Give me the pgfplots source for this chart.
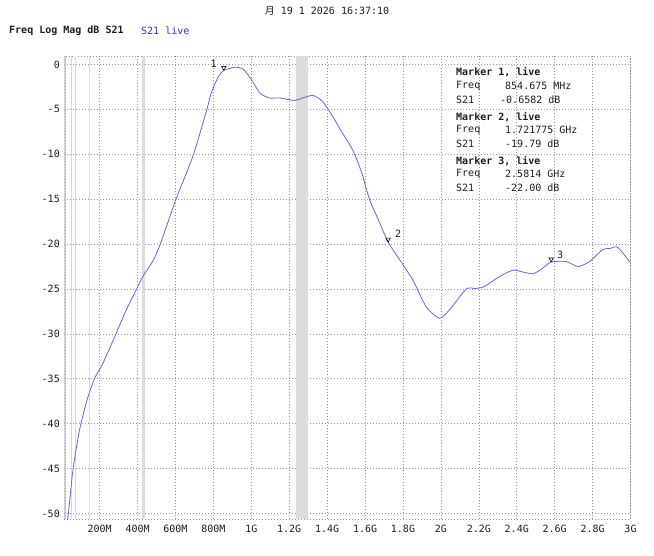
\documentclass[border=0pt]{standalone}
\usepackage{fontspec}
\setmainfont{DejaVu Sans Mono}
\newfontfamily\cjk{Noto Sans CJK SC}
\usepackage{pgfplots}
\pgfplotsset{compat=1.18}
\definecolor{trace}{RGB}{105,105,205}
\definecolor{gridc}{RGB}{150,150,150}
\definecolor{band}{RGB}{220,220,220}
\definecolor{lband}{RGB}{200,200,200}
\definecolor{txt}{RGB}{30,30,30}
\definecolor{live}{RGB}{50,50,190}
\begin{document}
\begin{tikzpicture}[x=1bp,y=1bp,font=\fontsize{10bp}{12bp}\selectfont]
\path[use as bounding box] (0,0) rectangle (654,556);
\node[anchor=center,text=txt] at (327,545) {{\cjk 月} 19 1 2026 16:37:10};
\node[anchor=west,inner sep=0,text=txt] at (9,525) {\bfseries Freq Log Mag dB S21};
\node[anchor=west,inner sep=0,text=live] at (141,525) {S21 live};
\begin{axis}[at={(64.3bp,36.7bp)}, anchor=south west, scale only axis,
  width=566.2bp, height=463.3bp,
  xmin=0.0137, xmax=3, ymin=-50.65, ymax=0.95,
  axis line style={gridc, dash pattern=on 1bp off 2bp, line width=0.6bp},
  grid=major, major grid style={gridc, dash pattern=on 1bp off 2bp, line width=0.6bp},
  major tick length=0,
  xtick={0.2,0.4,0.6,0.8,1,1.2,1.4,1.6,1.8,2,2.2,2.4,2.6,2.8,3},
  xticklabels={200M,400M,600M,800M,1G,1.2G,1.4G,1.6G,1.8G,2G,2.2G,2.4G,2.6G,2.8G,3G},
  ytick={-50,-45,-40,-35,-30,-25,-20,-15,-10,-5,0},
  yticklabels={-50,-45,-40,-35,-30,-25,-20,-15,-10,-5,0},
  tick label style={font=\fontsize{10bp}{12bp}\selectfont, text=txt},
  xticklabel style={yshift=-2bp},
  yticklabel style={xshift=-1bp},
  clip=true]
\addplot[draw=none, fill=band, forget plot] coordinates {(1.236,-50.65) (1.300,-50.65) (1.300,0.95) (1.236,0.95)} -- cycle;
\addplot[draw=none, fill=band, forget plot] coordinates {(0.423,-50.65) (0.437,-50.65) (0.437,0.95) (0.423,0.95)} -- cycle;
\addplot[draw=none, fill=lband, forget plot] coordinates {(0.0137,-50.65) (0.022,-50.65) (0.022,0.95) (0.0137,0.95)} -- cycle;
\addplot[gray!30, line width=0.8bp, forget plot] coordinates {(0.05,-50.65) (0.05,0.95)};
\addplot[gray!30, line width=0.8bp, forget plot] coordinates {(0.074,-50.65) (0.074,0.95)};
\addplot[gray!30, line width=0.8bp, forget plot] coordinates {(0.146,-50.65) (0.146,0.95)};
\addplot[trace, line width=0.8bp, smooth, tension=0.4] coordinates {
(0.0137,-50.65) (0.031,-50.65) (0.059,-45.2) (0.094,-40.7) (0.133,-37.4) (0.1735,-34.95)
(0.217,-33.3) (0.288,-29.9) (0.341,-27.3) (0.393,-25.1) (0.428,-23.6) (0.483,-21.8)
(0.518,-20.1) (0.603,-15.0) (0.650,-12.5) (0.694,-10.1) (0.729,-7.66) (0.765,-5.07)
(0.791,-3.03) (0.826,-1.36) (0.8547,-0.66) (0.914,-0.31) (0.958,-0.53) (1.002,-1.73)
(1.046,-3.2) (1.097,-3.73) (1.150,-3.73)
(1.228,-4.0) (1.270,-3.73) (1.325,-3.44) (1.376,-4.11) (1.429,-5.79) (1.481,-7.64)
(1.534,-9.5) (1.580,-11.9) (1.624,-15.07) (1.67,-17.3) (1.7218,-19.79) (1.800,-22.3)
(1.852,-24.0) (1.923,-27.0) (1.993,-28.26) (2.046,-27.3) (2.134,-25.0) (2.18,-24.95)
(2.222,-24.8) (2.26,-24.3) (2.31,-23.6) (2.38,-22.9) (2.43,-23.1) (2.485,-23.3)
(2.53,-22.8) (2.5814,-22.0) (2.661,-21.95) (2.723,-22.5) (2.784,-21.95) (2.854,-20.6)
(2.89,-20.5) (2.927,-20.3) (2.96,-21.0) (2.995,-21.95) (3.0,-22.0)
};
\addplot[only marks, mark=triangle, mark size=2.6bp,
  mark options={yshift=2.8bp, rotate=180, draw=black, fill=none, line width=0.6bp}]
  coordinates {(0.854675,-0.6582) (1.721775,-19.79) (2.5814,-22.00)};
\node[text=txt, xshift=-10bp, yshift=7bp] at (axis cs:0.854675,-0.6582) {1};
\node[text=txt, xshift=10bp, yshift=8bp] at (axis cs:1.721775,-19.79) {2};
\node[text=txt, xshift=9bp, yshift=7bp] at (axis cs:2.5814,-22.00) {3};
\end{axis}
\begin{scope}[every node/.style={anchor=west, inner sep=0, text=txt}]
\node at (456,484) {\bfseries Marker 1, live};
\node at (456,470) {Freq};
\node at (505,470) {854.675 MHz};
\node at (456,456) {S21};
\node at (500,456) {-0.6582 dB};
\node at (456,439) {\bfseries Marker 2, live};
\node at (456,426) {Freq};
\node at (505,426) {1.721775 GHz};
\node at (456,412) {S21};
\node at (505,412) {-19.79 dB};
\node at (456,395) {\bfseries Marker 3, live};
\node at (456,382) {Freq};
\node at (505,382) {2.5814 GHz};
\node at (456,368) {S21};
\node at (505,368) {-22.00 dB};
\end{scope}
\end{tikzpicture}
\end{document}
